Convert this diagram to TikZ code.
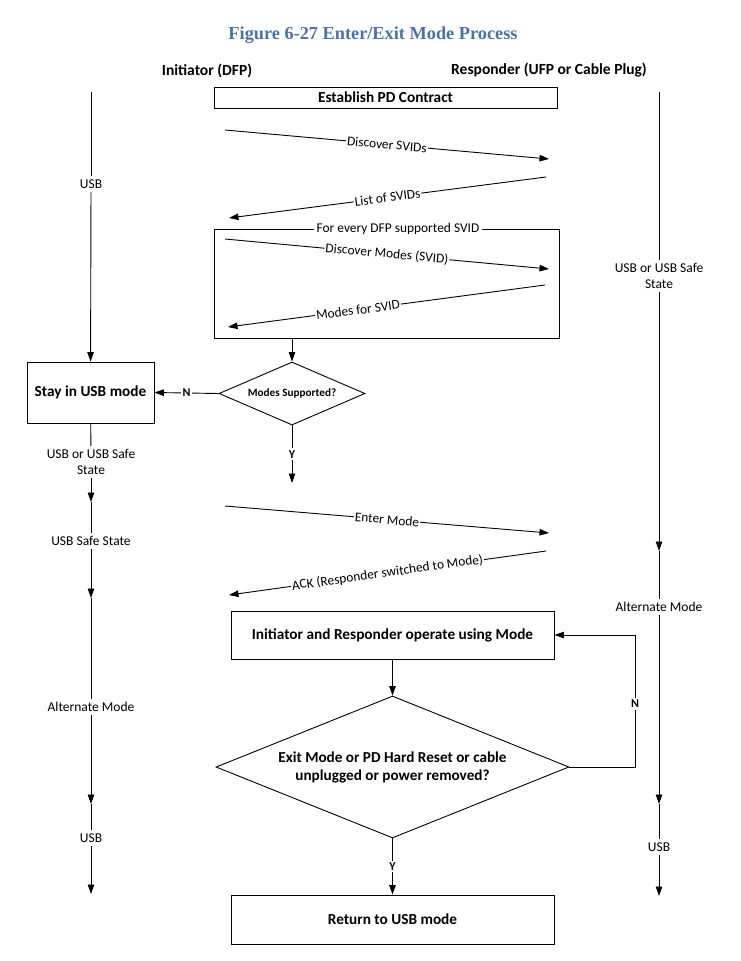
\documentclass[tikz,border=0pt]{standalone}
\usepackage{fontspec}
\setmainfont{Carlito}
\newfontfamily\titlefont{Liberation Serif}
\usetikzlibrary{arrows.meta,shapes.geometric}
\definecolor{titleblue}{RGB}{76,114,168}
\begin{document}
\begin{tikzpicture}[x=1pt,y=-1pt,line width=0.9pt,
  arr/.style={-{Triangle[length=9.5pt,width=6.5pt]}},
  boxnode/.style={draw,rectangle,inner sep=0pt,font=\fontsize{15.3}{18}\selectfont\bfseries},
  msg/.style={sloped,fill=white,inner sep=1pt,font=\fontsize{13.4}{15}\selectfont},
  lane/.style={inner sep=3pt,align=center,font=\fontsize{13.5}{15.5}\selectfont},
  yn/.style={fill=white,inner sep=2pt,font=\fontsize{12}{14}\selectfont\bfseries},
  hdr/.style={font=\fontsize{15.5}{18}\selectfont\bfseries}]
\useasboundingbox (0,0) rectangle (740,961);
% title and headers
\node[font=\titlefont\fontsize{18.3}{22}\selectfont\bfseries,text=titleblue] (title) at (373,35) {Figure 6-27 Enter/Exit Mode Process};
\node[hdr] (hini) at (207,71) {Initiator (DFP)};
\node[hdr] (hres) at (549,70) {Responder (UFP or Cable Plug)};
% boxes
\node[boxnode,minimum width=343pt,minimum height=21pt] (est) at (385.5,97.5) {Establish PD Contract};
\node[boxnode,minimum width=127pt,minimum height=61pt] (stay) at (90.5,392.5) {Stay in USB mode};
\node[draw,minimum width=345pt,minimum height=109pt,inner sep=0pt] (loop) at (386.5,283.5) {};
\node[fill=white,inner sep=3pt,font=\fontsize{13.4}{15}\selectfont] (looplbl) at (398,229) {For every DFP supported SVID};
\node[draw,diamond,aspect=2.3,inner sep=0pt,minimum width=146pt,minimum height=63pt,font=\fontsize{11.2}{13}\selectfont\bfseries] (ms) at (292,393.5) {Modes Supported?};
\node[boxnode,minimum width=323pt,minimum height=48pt] (op) at (392.5,635) {Initiator and Responder operate using Mode};
\node[draw,diamond,aspect=2.5,inner sep=0pt,minimum width=353pt,minimum height=142pt,align=center,font=\fontsize{15.2}{18}\selectfont\bfseries] (ex) at (392.5,767) {Exit Mode or PD Hard Reset or cable\\unplugged or power removed?};
\node[boxnode,minimum width=323pt,minimum height=49pt] (ret) at (392.5,919.5) {Return to USB mode};
% left lifeline
\coordinate (L0) at (91,92);
\node[lane] (lU) at (91,184) {USB};
\node[lane] (lUS) at (91,462) {USB or USB Safe\\State};
\coordinate (la1) at (91,502);
\node[lane] (lSafe) at (91,541) {USB Safe State};
\coordinate (la2) at (91,598);
\node[lane] (lAlt) at (91,707) {Alternate Mode};
\coordinate (la3) at (91,804);
\node[lane] (lUSB) at (91,838) {USB};
\coordinate (la4) at (91,894);
\draw (L0) -- (lU);
\draw[arr] (lU) -- (stay);
\draw (stay) -- (lUS);
\draw[arr] (lUS) -- (la1);
\draw (la1) -- (lSafe);
\draw[arr] (lSafe) -- (la2);
\draw (la2) -- (lAlt);
\draw[arr] (lAlt) -- (la3);
\draw (la3) -- (lUSB);
\draw[arr] (lUSB) -- (la4);
% right lifeline
\coordinate (R0) at (659,92);
\node[lane] (rUS) at (659,276) {USB or USB Safe\\State};
\coordinate (ra1) at (659,551);
\node[lane] (rAlt) at (659,607) {Alternate Mode};
\coordinate (ra2) at (659,804);
\node[lane] (rUSB) at (659,847) {USB};
\coordinate (ra3) at (659,896);
\draw (R0) -- (rUS);
\draw[arr] (rUS) -- (ra1);
\draw (ra1) -- (rAlt);
\draw[arr] (rAlt) -- (ra2);
\draw (ra2) -- (rUSB);
\draw[arr] (rUSB) -- (ra3);
% messages
\coordinate (m1s) at (225,130); \coordinate (m1e) at (549,159);
\coordinate (m2s) at (546,177); \coordinate (m2e) at (229,218);
\coordinate (m3s) at (225,239); \coordinate (m3e) at (549,269);
\coordinate (m4s) at (545,285); \coordinate (m4e) at (228,327);
\coordinate (m5s) at (225,506); \coordinate (m5e) at (549,533);
\coordinate (m6s) at (546,551); \coordinate (m6e) at (229,595);
\draw[arr] (m1s) -- node[msg] {Discover SVIDs} (m1e);
\draw[arr] (m2s) -- node[msg] {List of SVIDs} (m2e);
\draw[arr] (m3s) -- node[msg] {Discover Modes (SVID)} (m3e);
\draw[arr] (m4s) -- node[msg,pos=0.59] {Modes for SVID} (m4e);
\draw[arr] (m5s) -- node[msg] {Enter Mode} (m5e);
\draw[arr] (m6s) -- node[msg] {ACK (Responder switched to Mode)} (m6e);
% flow
\draw[arr] (ms.north |- loop.south) -- (ms.north);
\draw[arr] (ms.west) -- node[yn] {N} (stay.east);
\coordinate (msy) at (292,483);
\draw[arr] (ms.south) -- node[yn] {Y} (msy);
\draw[arr] (op) -- (ex.north);
\coordinate (nc) at (635,767);
\draw[arr] (ex.east) -- (nc) |- node[yn,pos=0.24] {N} (op.east);
\draw[arr] (ex.south) -- node[yn] {Y} (ret.north);
\end{tikzpicture}
\end{document}
